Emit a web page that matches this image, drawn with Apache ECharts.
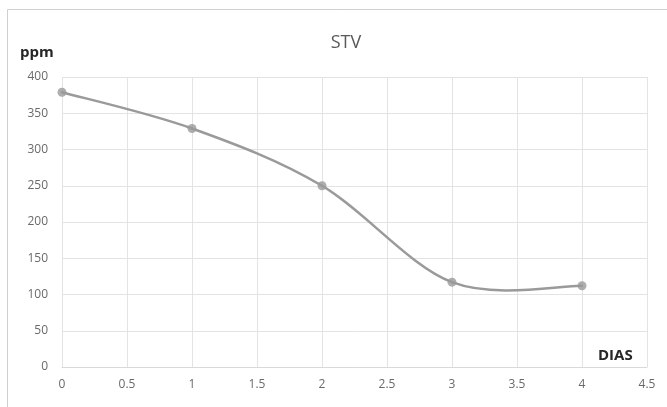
<!DOCTYPE html>
<html>
<head>
<meta charset="utf-8">
<script src="https://cdn.jsdelivr.net/npm/echarts@6/dist/echarts.min.js"></script>
<style>
  html, body { margin: 0; padding: 0; background: #fff; }
  #chart { width: 667px; height: 407px; }
</style>
</head>
<body>
<div id="chart"></div>
<script>
// STV concentration (ppm) over days
const dias = [0, 1, 2, 3, 4];
const ppm = [379, 329, 250, 117, 112];

const xMin = 0, xMax = 4.5, xStep = 0.5;
const yMin = 0, yMax = 400, yStep = 50;

const lineColor = '#9a9a9a';
const font = '"Open Sans", "Noto Sans", sans-serif';
const points = dias.map((d, i) => [d, ppm[i]]);

// One cubic Bezier per segment, Catmull-Rom style control points
// (tangent = (next - prev) / 6), endpoints reuse themselves as neighbours.
function renderSegment(params, api) {
  const i = params.dataIndex;
  const n = points.length;
  if (i >= n - 1) return null;
  const p0 = api.coord(points[Math.max(i - 1, 0)]);
  const p1 = api.coord(points[i]);
  const p2 = api.coord(points[i + 1]);
  const p3 = api.coord(points[Math.min(i + 2, n - 1)]);
  return {
    type: 'bezierCurve',
    shape: {
      x1: p1[0], y1: p1[1],
      x2: p2[0], y2: p2[1],
      cpx1: p1[0] + (p2[0] - p0[0]) / 6,
      cpy1: p1[1] + (p2[1] - p0[1]) / 6,
      cpx2: p2[0] - (p3[0] - p1[0]) / 6,
      cpy2: p2[1] - (p3[1] - p1[1]) / 6
    },
    style: { fill: 'none', stroke: lineColor, lineWidth: 2.5, lineCap: 'round' }
  };
}

const chart = echarts.init(document.getElementById('chart'), null, { renderer: 'canvas' });

chart.setOption({
  animation: false,
  backgroundColor: '#ffffff',
  title: {
    text: 'STV',
    left: 341,
    top: 29,
    textAlign: 'center',
    textStyle: { fontFamily: font, fontSize: 18, fontWeight: 'normal', color: '#595959' }
  },
  graphic: [
    {
      type: 'rect',
      shape: { x: 7.5, y: 9.5, width: 700, height: 420 },
      style: { fill: 'none', stroke: '#d0d0d0', lineWidth: 1 },
      z: -1
    },
    {
      type: 'text',
      left: 20, top: 45,
      style: { text: 'ppm', font: 'bold 15px ' + font, fill: '#262626' }
    },
    {
      type: 'text',
      left: 598, top: 348,
      style: { text: 'DIAS', font: 'bold 15px ' + font, fill: '#262626' }
    }
  ],
  grid: { left: 62, right: 20, top: 77, bottom: 40, containLabel: false },
  xAxis: {
    type: 'value',
    min: xMin, max: xMax, interval: xStep,
    axisLine: { show: true, lineStyle: { color: '#d9d9d9' } },
    axisTick: { show: false },
    axisLabel: { color: '#6a6a6a', fontFamily: font, fontSize: 12, margin: 12 },
    splitLine: { show: true, lineStyle: { color: '#e3e3e3' } }
  },
  yAxis: {
    type: 'value',
    min: yMin, max: yMax, interval: yStep,
    axisLine: { show: false },
    axisTick: { show: false },
    axisLabel: { color: '#6a6a6a', fontFamily: font, fontSize: 12, margin: 14 },
    splitLine: { show: true, lineStyle: { color: '#e3e3e3' } }
  },
  series: [
    {
      name: 'STV',
      type: 'custom',
      data: points,
      encode: { x: 0, y: 1 },
      renderItem: renderSegment,
      z: 2
    },
    {
      name: 'STV',
      type: 'scatter',
      data: points,
      symbol: 'circle',
      symbolSize: 9,
      itemStyle: { color: lineColor },
      z: 3
    }
  ]
});
</script>
</body>
</html>
